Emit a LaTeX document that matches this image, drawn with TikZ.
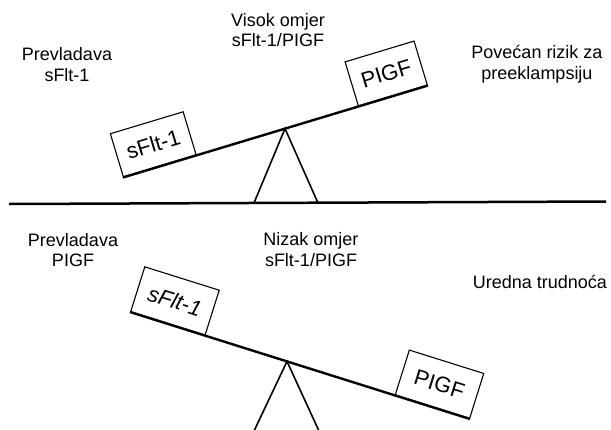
\documentclass[tikz,border=0pt]{standalone}
\usepackage{fontspec}
\setmainfont{Liberation Sans}
\begin{document}
\begin{tikzpicture}[x=1pt,y=-1pt,
  lbl/.style={align=center, font=\fontsize{18}{20.7}\selectfont, inner sep=0pt},
  box/.style={draw, line width=1.1pt, minimum width=76pt, minimum height=45pt, inner sep=0pt, font=\fontsize{22}{24}\selectfont},
  beam/.style={line width=2.4pt},
  leg/.style={line width=1.6pt, line join=miter},
  ground/.style={line width=2.5pt}]
\useasboundingbox (0,0) rectangle (611,429);
% ground
\coordinate (g1) at (9,204);
\coordinate (g2) at (606,201.5);
\draw[ground] (g1) -- (g2);
% top seesaw
\coordinate (tl) at (123,177.5);
\coordinate (tr) at (428,85.5);
\coordinate (ta) at (285,128.6);
\coordinate (tb1) at (254,203);
\coordinate (tb2) at (318,203);
\draw[leg] (tb1) -- (ta) -- (tb2);
\draw[beam] (tl) -- (tr)
  node[pos=0, sloped, anchor=south west, box] (ts) {sFlt-1}
  node[pos=1, sloped, anchor=south east, box, minimum width=72pt, minimum height=46pt] (tp) {PIGF};
% bottom seesaw
\coordinate (bl) at (130,312);
\coordinate (br) at (470,419);
\coordinate (ba) at (287,361.4);
\coordinate (bb1) at (254,431);
\coordinate (bb2) at (319,431);
\draw[leg] (bb1) -- (ba) -- (bb2);
\draw[beam] (bl) -- (br)
  node[pos=0, sloped, anchor=south west, box, minimum width=78pt, minimum height=47pt] (bs) {\itshape sFlt-1}
  node[pos=1, sloped, anchor=south east, box, minimum width=78pt, minimum height=47pt] (bp) {PIGF};
% labels (anchor=base is the last line's baseline)
\node[lbl, anchor=base] (t1) at (67,81) {Prevladava\\sFlt-1};
\node[lbl, anchor=base] (t2) at (278,46.7) {Visok omjer\\sFlt-1/PIGF};
\node[lbl, anchor=base] (t3) at (537,79.5) {Povećan rizik za\\preeklampsiju};
\node[lbl, anchor=base] (t4) at (73,266.7) {Prevladava\\PIGF};
\node[lbl, anchor=base] (t5) at (311,266) {Nizak omjer\\sFlt-1/PIGF};
\node[lbl, anchor=base] (t6) at (540,288.3) {Uredna trudnoća};
\end{tikzpicture}
\end{document}
